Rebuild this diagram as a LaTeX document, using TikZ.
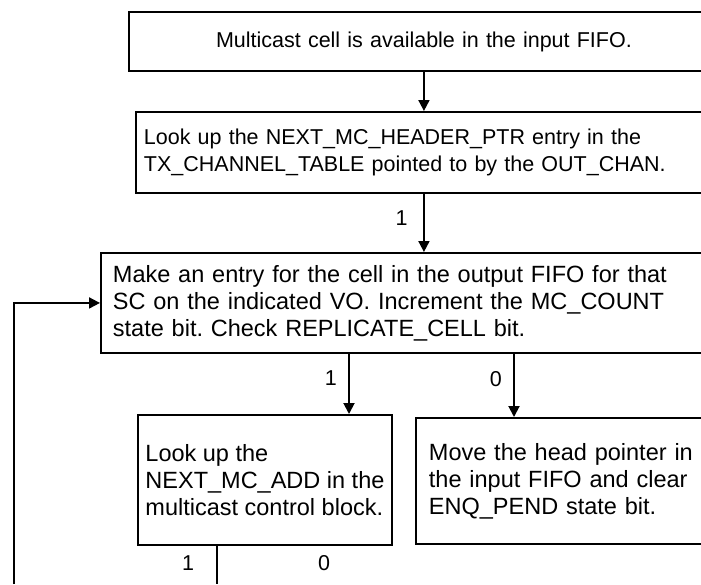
\documentclass[tikz,border=0pt]{standalone}
\usepackage{fontspec}
\setmainfont{Liberation Sans}
\usetikzlibrary{positioning, arrows.meta, calc}
\frenchspacing
\tikzset{
  stepbox/.style={rectangle, draw, line width=1.9pt, anchor=north west, align=left, inner xsep=10pt, inner ysep=0pt},
  bigtext/.style={font=\fontsize{23.5}{27}\selectfont},
  flow/.style={->, line width=1.9pt},
  wire/.style={line width=1.9pt}
}

\begin{document}
\begin{tikzpicture}[
  % pixel-like units, y grows downwards
  x=1pt, y=-1pt,
  >={Triangle[length=11pt, width=11pt]},
  every node/.style={font=\fontsize{21.5}{26.5}\selectfont}
]
  \useasboundingbox (0,0) rectangle (701,584);
  \clip (0,0) rectangle (701,584);

  % Column positions of the drops that leave the boxes
  \coordinate (dropone) at (349,0);
  \coordinate (dropzero) at (514,0);
  \coordinate (loopin) at (14,584);
  \coordinate (exitone) at (217,584);

  % Boxes (right edges run past the page)
  \node[stepbox, align=center, text width=570pt, minimum height=59pt] (avail) at (128,11)
    {Multicast cell is available in the input FIFO.};
  \node[stepbox, inner xsep=8pt, text width=567pt, minimum height=81pt] (lookhdr) at (135,111)
    {Look up the NEXT\_MC\_HEADER\_PTR entry in the\\TX\_CHANNEL\_TABLE pointed to by the OUT\_CHAN.};
  \node[stepbox, bigtext, inner xsep=12pt, text width=594pt, minimum height=100pt] (entry) at (100,252)
    {Make an entry for the cell in the output FIFO for that\\SC on the indicated VO. Increment the MC\_COUNT\\state bit. Check REPLICATE\_CELL bit.};
  \node[stepbox, bigtext, inner xsep=0pt, minimum width=254pt, minimum height=130pt] (addbox) at (137,414)
    {Look up the\\NEXT\_MC\_ADD in the\\multicast control block.};
  \node[stepbox, bigtext, inner xsep=13pt, text width=277pt, minimum height=126pt] (movebox) at (415,417)
    {Move the head pointer in\\the input FIFO and clear\\ENQ\_PEND state bit.};

  % Flow
  \draw[flow] (avail) -- (avail |- lookhdr.north);
  \draw[flow] (avail |- lookhdr.south) -- (avail |- entry.north) node[pos=0.42, left=12pt] {1};
  \draw[flow] (entry.south -| dropone) -- (addbox.north -| dropone) node[pos=0.4, left=8pt] {1};
  \draw[flow] (entry.south -| dropzero) -- (movebox.north -| dropzero) node[pos=0.4, left=8pt] {0};

  % Loop back into the entry box
  \draw[flow] (loopin) |- (entry.west);

  % Exit of the lookup box
  \draw[wire] (addbox.south -| exitone) -- (exitone);
  \node (exitlabone) at (188,563) {1};
  \node (exitlabzero) at (324,563) {0};
\end{tikzpicture}
\end{document}
